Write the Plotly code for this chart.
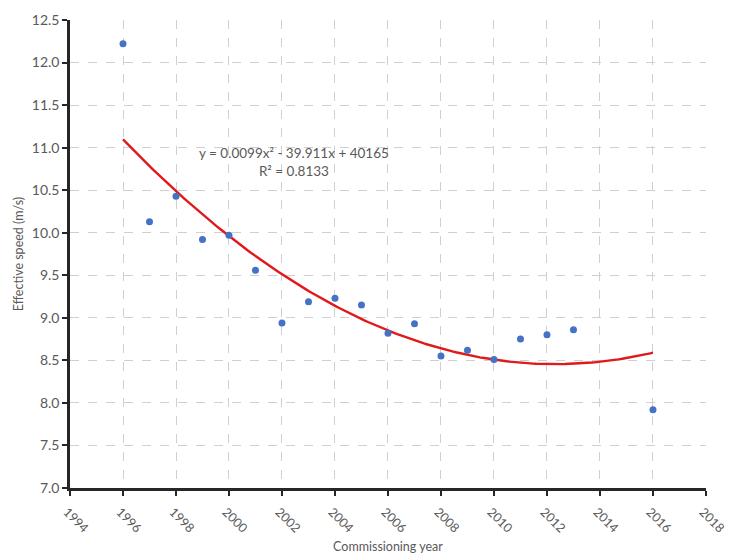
import numpy as np
import plotly.graph_objects as go

years = [1996, 1997, 1998, 1999, 2000, 2001, 2002, 2003, 2004, 2005, 2006, 2007,
         2008, 2009, 2010, 2011, 2012, 2013, 2016]
speeds = [12.22, 10.13, 10.43, 9.92, 9.97, 9.56, 8.94, 9.19, 9.23, 9.15, 8.82, 8.93,
          8.55, 8.62, 8.51, 8.75, 8.80, 8.86, 7.92]
x_ticks = list(range(1994, 2019, 2))
y_ticks = [7.0 + 0.5 * i for i in range(12)]

coef = np.polyfit(years, speeds, 2)
xs = np.linspace(1996, 2016, 200)
ys = np.polyval(coef, xs)

grey = "#595959"
fig = go.Figure()
fig.add_trace(go.Scatter(x=xs, y=ys, mode="lines", line=dict(color="#e0191b", width=2.4),
                         hoverinfo="skip", showlegend=False))
fig.add_trace(go.Scatter(x=years, y=speeds, mode="markers",
                         marker=dict(color="#4472c4", size=7), showlegend=False))

fig.add_annotation(x=2002.45, y=10.83, xref="x", yref="y",
                   text="y = 0.0099x² - 39.911x + 40165<br>R² = 0.8133",
                   showarrow=False, font=dict(family="Lato, Carlito, sans-serif", size=13.5, color=grey),
                   align="center")

fig.update_layout(
    width=729, height=554,
    margin=dict(l=70, r=23, t=20, b=66, autoexpand=False),
    plot_bgcolor="white", paper_bgcolor="white",
    font=dict(family="Lato, Carlito, sans-serif", color=grey, size=14),
    xaxis=dict(range=[1994, 2018.001], tickvals=x_ticks, ticktext=[str(v) for v in x_ticks],
               tickangle=45, showgrid=True, gridcolor="#d0d0d0", griddash="dash", gridwidth=1,
               showline=True, linecolor="#262626", linewidth=2.5,
               ticks="outside", ticklen=5, tickwidth=2, tickcolor="#262626",
               zeroline=False, automargin=False, ticklabeloverflow="allow",
               tickfont=dict(size=12.5), ticklabelstandoff=4, ticklabelshift=-3,
               title=dict(text="Commissioning year", font=dict(size=12.5, color=grey), standoff=8)),
    yaxis=dict(range=[7.0, 12.5], tickvals=y_ticks, ticktext=[f"{v:.1f}" for v in y_ticks],
               showgrid=True, gridcolor="#d0d0d0", griddash="dash", gridwidth=1,
               showline=True, linecolor="#262626", linewidth=2.5,
               ticks="outside", ticklen=5, tickwidth=2, tickcolor="#262626",
               zeroline=False, automargin=False,
               title=dict(text="Effective speed (m/s)", font=dict(size=12.5, color=grey), standoff=6)),
)

fig.write_html("out.html")
